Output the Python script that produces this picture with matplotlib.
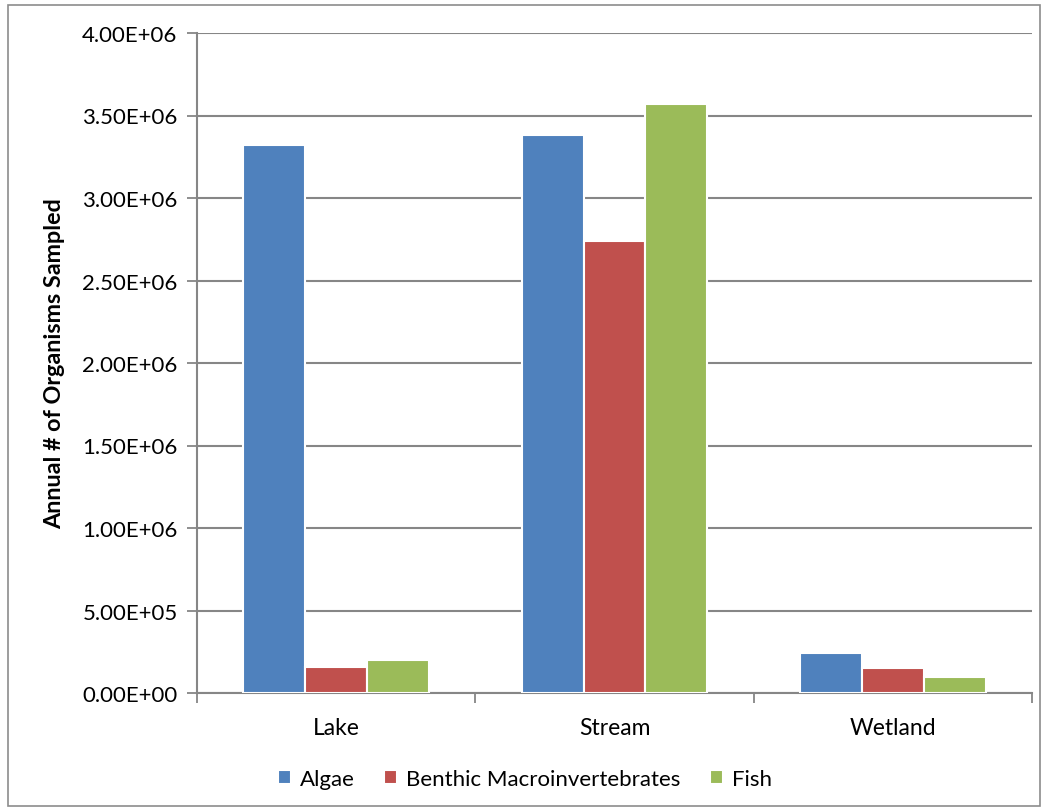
import numpy as np
import matplotlib.pyplot as plt
from matplotlib.patches import Rectangle

plt.rcParams['font.family'] = ['Lato', 'DejaVu Sans']

# data
habitats = ['Lake', 'Stream', 'Wetland']
series = ['Algae', 'Benthic Macroinvertebrates', 'Fish']
algae = [3.32e6, 3.38e6, 0.244e6]
benthic = [0.157e6, 2.74e6, 0.152e6]
fish = [0.199e6, 3.57e6, 0.095e6]
colors = ['#4F81BD', '#C0504D', '#9BBB59']
yticks = np.arange(0, 4.01e6, 0.5e6)
ytick_labels = ['0.00E+00', '5.00E+05', '1.00E+06', '1.50E+06', '2.00E+06',
                '2.50E+06', '3.00E+06', '3.50E+06', '4.00E+06']

fig = plt.figure(figsize=(10.48, 8.12), dpi=100)
ax = fig.add_axes([197/1048, 1 - 694/812, (1032-197)/1048, (694-34)/812])

# outer chart border
fig.patches.append(Rectangle((8/1048, 5/812), 1032/1048, 801/812, transform=fig.transFigure,
                             fill=False, edgecolor='#8c8c8c', linewidth=1.2))

x = np.arange(len(habitats))
w = 0.222
for i, (vals, name) in enumerate(zip([algae, benthic, fish], series)):
    ax.bar(x + (i - 1) * w, vals, width=w, color=colors[i], edgecolor='white',
           linewidth=1.5, label=name, zorder=3)

ax.set_xlim(-0.5, 2.5)
ax.set_ylim(0, 4.0e6)
ax.set_yticks(yticks)
ax.set_yticklabels(ytick_labels, fontsize=16)
ax.set_xticks(x)
ax.set_xticklabels(habitats, fontsize=16.5)
ax.tick_params(axis='x', length=0, pad=17)
ax.tick_params(axis='y', length=7, color='#868686', width=1.3, pad=7)
# category boundary ticks
ax.set_xticks([-0.5, 0.5, 1.5, 2.5], minor=True)
ax.tick_params(axis='x', which='minor', length=7, color='#868686', width=1.3)

ax.grid(axis='y', color='#868686', linewidth=1.5, zorder=0)
for s in ['top', 'right']:
    ax.spines[s].set_visible(False)
for s in ['left', 'bottom']:
    ax.spines[s].set_color('#868686')
    ax.spines[s].set_linewidth(1.5)

ax.set_ylabel('Annual # of Organisms Sampled', fontsize=16.8, fontweight='bold', labelpad=12)

fig.legend(loc='center', bbox_to_anchor=(525/1048, 1 - 780/812), ncol=3, frameon=False,
           fontsize=16, handlelength=0.6, handleheight=0.6, handletextpad=0.4, columnspacing=1.3)

fig.savefig('out.png', dpi=100)
